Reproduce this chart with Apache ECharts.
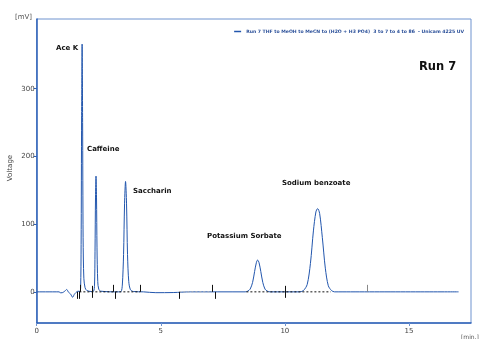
<!DOCTYPE html>
<html>
<head>
<meta charset="utf-8">
<style>
  html, body { margin: 0; padding: 0; background: #fff; }
  #main { width: 480px; height: 339px; }
</style>
<script src="https://cdn.jsdelivr.net/npm/echarts@6/dist/echarts.min.js"></script>
</head>
<body>
<div id="main"></div>
<script>
// trace: [min, mV]
var trace = [
    [0, 0], [0.9, 0], [0.97, -1.5], [1.05, -1], [1.13, 1], [1.21, 3.5], [1.28, -0.5],
    [1.36, -3], [1.45, -8], [1.51, -4], [1.58, -1], [1.66, 1], [1.74, 0.5],
    [1.77, 6], [1.79, 70], [1.81, 260], [1.83, 366], [1.85, 250], [1.87, 80], [1.9, 20],
    [1.95, 6], [2.02, 2], [2.2, 0.5],
    [2.29, 1], [2.33, 10], [2.35, 60], [2.37, 140], [2.39, 171], [2.41, 140], [2.43, 65],
    [2.46, 15], [2.5, 4], [2.58, 1], [3.3, 0],
    [3.4, 0.5], [3.45, 10], [3.5, 55], [3.54, 130], [3.58, 163], [3.62, 130], [3.66, 55],
    [3.71, 15], [3.78, 3], [3.9, 0.5], [4.3, 0], [4.8, -1.2], [5.5, -1], [6.2, 0],
    [8.4, 0], [8.5, 1], [8.6, 4], [8.7, 14], [8.78, 30], [8.85, 43], [8.9, 47],
    [8.96, 43], [9.03, 30], [9.11, 14], [9.2, 4], [9.3, 1], [9.4, 0],
    [10.6, 0], [10.75, 2], [10.9, 11], [11.03, 42], [11.15, 90], [11.25, 118], [11.32, 123],
    [11.4, 116], [11.51, 80], [11.63, 35], [11.75, 9], [11.88, 2], [12.0, 0],
    [17.0, 0]
];

// integration marks: [min, dir]  1 above, -1 below, 0 crossing
var marks = [
    [1.61, -1], [1.69, -1], [1.75, 1], [2.22, 0], [3.09, 1], [3.16, -1],
    [4.17, 1], [5.75, -1], [7.06, 1], [7.19, -1], [10.0, 0]
];
var marksGrey = [[13.31, 1]];

// baselines under the peaks
var baseBlack = [[1.72, 0], [4.17, 0], [4.17, '-'], [8.45, 0], [11.85, 0]];
var baseGrey = [[5.75, 0], [7.06, 0]];

var xTicks = [0, 5, 10, 15];
var yTicks = [0, 100, 200, 300];

var blue = '#2256ad';
var axisBlue = '#2f62b8';
var font = 'DejaVu Sans';
var runName = 'Run 7 THF to MeOH to MeCN to (H2O + H3 PO4)  3 to 7 to 4 to 86  - Unicam 4225 UV';

function markItem(color) {
    return function (params, api) {
        var p = api.coord([api.value(0), 0]);
        var d = api.value(1);
        var y1 = d === 1 ? p[1] - 7 : (d === -1 ? p[1] : p[1] - 6);
        var y2 = d === 1 ? p[1] : (d === -1 ? p[1] + 7 : p[1] + 6);
        return {
            type: 'line',
            shape: { x1: Math.round(p[0]) + 0.5, y1: y1, x2: Math.round(p[0]) + 0.5, y2: y2 },
            style: { stroke: color, lineWidth: 1 }
        };
    };
}

var myChart = echarts.init(document.getElementById('main'));

var option = {
    animation: false,
    textStyle: { fontFamily: font },
    grid: {
        left: 36.7, right: 9, top: 19, bottom: 16,
        show: true, borderColor: '#6f93cf', borderWidth: 1
    },
    legend: {
        data: [runName],
        right: 11, top: 24,
        itemWidth: 7, itemHeight: 1.5, itemGap: 4,
        icon: 'rect',
        textStyle: { fontSize: 4.6, fontWeight: 'bold', color: '#2a4f99', fontFamily: font }
    },
    xAxis: {
        type: 'value', min: 0, max: 17.5,
        axisLine: { onZero: false, lineStyle: { color: axisBlue, width: 1.5 } },
        axisTick: { customValues: xTicks, length: 3, lineStyle: { color: '#6f93cf' } },
        axisLabel: { customValues: xTicks, fontSize: 7, color: '#444', margin: 5 },
        splitLine: { show: false }
    },
    yAxis: {
        type: 'value', min: -46, max: 403,
        axisLine: { show: true, lineStyle: { color: axisBlue, width: 1.5 } },
        axisTick: { show: true, customValues: yTicks, length: 3, lineStyle: { color: axisBlue } },
        axisLabel: { customValues: yTicks, fontSize: 7, color: '#444', margin: 2 },
        splitLine: { show: false }
    },
    graphic: [
        { type: 'text', left: 15, top: 14, style: { text: '[mV]', fontSize: 7, fill: '#555', fontFamily: font } },
        { type: 'text', x: 10, y: 168, rotation: Math.PI / 2,
          style: { text: 'Voltage', fontSize: 7, fill: '#444', fontFamily: font, align: 'center', verticalAlign: 'middle' } },
        { type: 'text', left: 461, top: 334, style: { text: '[min.]', fontSize: 6, fill: '#555', fontFamily: font } },
        { type: 'text', left: 419, top: 61, style: { text: 'Run 7', fontSize: 11.5, fontWeight: 'bold', fill: '#111', fontFamily: font } },
        { type: 'text', left: 56, top: 45, style: { text: 'Ace K', fontSize: 7, fontWeight: 'bold', fill: '#111', fontFamily: font } },
        { type: 'text', left: 87, top: 146, style: { text: 'Caffeine', fontSize: 7, fontWeight: 'bold', fill: '#111', fontFamily: font } },
        { type: 'text', left: 133, top: 188, style: { text: 'Saccharin', fontSize: 7, fontWeight: 'bold', fill: '#111', fontFamily: font } },
        { type: 'text', left: 207, top: 233, style: { text: 'Potassium Sorbate', fontSize: 7, fontWeight: 'bold', fill: '#111', fontFamily: font } },
        { type: 'text', left: 282, top: 180, style: { text: 'Sodium benzoate', fontSize: 7, fontWeight: 'bold', fill: '#111', fontFamily: font } }
    ],
    series: [
        {
            name: runName,
            type: 'line', data: trace, smooth: 0.3, showSymbol: false,
            lineStyle: { color: blue, width: 1 }, itemStyle: { color: blue }, z: 2
        },
        {
            type: 'line', data: baseGrey, showSymbol: false, silent: true,
            lineStyle: { color: '#bbb', width: 1, type: [2, 2] }, z: 3
        },
        {
            type: 'line', data: baseBlack, showSymbol: false, silent: true, connectNulls: false,
            lineStyle: { color: '#111', width: 1, type: [2, 2] }, z: 3
        },
        {
            type: 'custom', data: marks, renderItem: markItem('#111'), silent: true, z: 4
        },
        {
            type: 'custom', data: marksGrey, renderItem: markItem('#888'), silent: true, z: 4
        }
    ]
};

myChart.setOption(option);
</script>
</body>
</html>
